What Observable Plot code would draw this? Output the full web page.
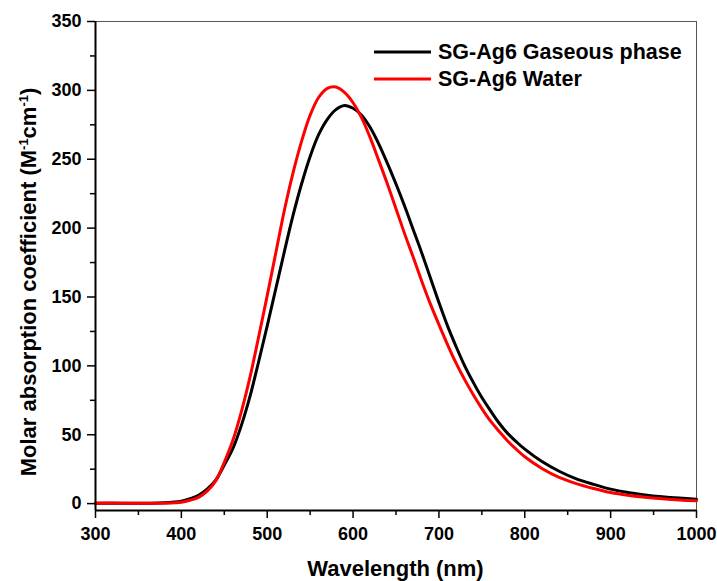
<!DOCTYPE html>
<html>
<head>
<meta charset="utf-8">
<script src="https://cdn.jsdelivr.net/npm/d3@7"></script>
<script src="https://cdn.jsdelivr.net/npm/@observablehq/plot@0.6"></script>
<style>
  html, body { margin: 0; padding: 0; background: #fff; }
  #chart { position: relative; width: 717px; height: 581px; }
</style>
</head>
<body>
<div id="chart"></div>
<script>
// Wavelength grid (nm)
const wavelengths = [300,320,340,360,380,400,410,420,430,440,450,460,470,480,490,500,510,520,530,540,550,560,570,580,590,600,610,620,630,640,650,660,670,680,690,700,710,720,730,740,750,760,770,780,790,800,820,840,860,880,900,920,940,960,980,1000];

// SG-Ag6 Gaseous phase (black)
const gaseous = [0.2,0.2,0.2,0.3,0.6,1.8,3.5,6,10.5,17,28,40,57,78,103,129,156,183,209,232,252,268,279,286,289,287,282,273,261,247,232,216,199,182,164,146,129,114,100,88,77,67.5,58.5,51,45,39.5,30.5,23.5,18,14,10.5,8,6.3,5,4,3.2];

// SG-Ag6 Water (red)
const water = [0.3,0.4,0.3,0.2,0.3,1.0,2.4,4.5,9,16.5,30,46,67,92,121,151,182,213,240,263,282,295,301.5,302.5,298.5,291,280,265.5,249,232,214,196,179,161.5,145,130,115.5,102,90,79,69,60,52.5,45.5,39.5,34,25.5,19,14.5,11,8,6,4.6,3.5,2.6,2];

const seriesNames = ["SG-Ag6 Gaseous phase", "SG-Ag6 Water"];
const seriesColors = ["#000000", "#ff0000"];

const xTicks = [300,400,500,600,700,800,900,1000];
const xMinorTicks = [350,450,550,650,750,850,950];
const yTicks = [0,50,100,150,200,250,300,350];
const yMinorTicks = [25,75,125,175,225,275,325];

const xTitle = "Wavelength (nm)";

const gasData = wavelengths.map((w, i) => ({w, v: gaseous[i]}));
const waterData = wavelengths.map((w, i) => ({w, v: water[i]}));

const font = "'Liberation Sans', Arial, Helvetica, sans-serif";

const chart = Plot.plot({
  width: 717,
  height: 581,
  marginLeft: 95,
  marginRight: 21,
  marginTop: 21,
  marginBottom: 71,
  x: {domain: [300, 1000], label: null},
  y: {domain: [-5, 350], label: null},
  style: {fontFamily: font, fontWeight: "bold", fontSize: "18px", color: "#000", background: "#fff"},
  marks: [
    Plot.ruleY([350], {stroke: "#555", strokeWidth: 1}),
    Plot.ruleX([1000], {stroke: "#555", strokeWidth: 1}),
    Plot.line(gasData, {x: "w", y: "v", stroke: seriesColors[0], strokeWidth: 3, curve: "catmull-rom"}),
    Plot.line(waterData, {x: "w", y: "v", stroke: seriesColors[1], strokeWidth: 3, curve: "catmull-rom"}),
    Plot.ruleX([300], {stroke: "#000", strokeWidth: 2}),
    Plot.ruleY([-5], {stroke: "#000", strokeWidth: 2}),
    Plot.axisX({ticks: xTicks, tickSize: 8, tickPadding: 9, fontSize: 18, fontWeight: "bold", strokeWidth: 1.5, label: null, tickFormat: d => String(d)}),
    Plot.axisX({ticks: xMinorTicks, tickSize: 5, strokeWidth: 1.5, text: null, label: null}),
    Plot.axisY({ticks: yTicks, tickSize: 8, tickPadding: 6, fontSize: 18, fontWeight: "bold", strokeWidth: 1.5, label: null, tickFormat: d => String(d)}),
    Plot.axisY({ticks: yMinorTicks, tickSize: 5, strokeWidth: 1.5, text: null, label: null})
  ]
});

document.getElementById("chart").appendChild(chart);

const svg = d3.select(chart);

// X axis title
svg.append("text")
  .attr("x", (95 + 696) / 2)
  .attr("y", 576)
  .attr("text-anchor", "middle")
  .style("font-family", font)
  .style("font-weight", "bold")
  .style("font-size", "22px")
  .attr("fill", "#000")
  .text(xTitle);

// Y axis title with superscripts
const yt = svg.append("text")
  .attr("transform", "translate(36,282) rotate(-90)")
  .attr("text-anchor", "middle")
  .style("font-family", font)
  .style("font-weight", "bold")
  .style("font-size", "22px")
  .attr("fill", "#000");
yt.append("tspan").text("Molar absorption coefficient (M");
yt.append("tspan").attr("dy", -8).style("font-size", "13px").text("-1");
yt.append("tspan").attr("dy", 8).text("cm");
yt.append("tspan").attr("dy", -8).style("font-size", "13px").text("-1");
yt.append("tspan").attr("dy", 8).text(")");

// Legend
const lg = svg.append("g");
seriesNames.forEach((name, i) => {
  const y = 52 + i * 27;
  lg.append("line")
    .attr("x1", 374).attr("x2", 431)
    .attr("y1", y).attr("y2", y)
    .attr("stroke", seriesColors[i])
    .attr("stroke-width", 3);
  lg.append("text")
    .attr("x", 438)
    .attr("y", y + 7)
    .attr("text-anchor", "start")
    .style("text-anchor", "start")
    .style("font-family", font)
    .style("font-weight", "bold")
    .style("font-size", "21.5px")
    .attr("fill", "#000")
    .text(name);
});
</script>
</body>
</html>
